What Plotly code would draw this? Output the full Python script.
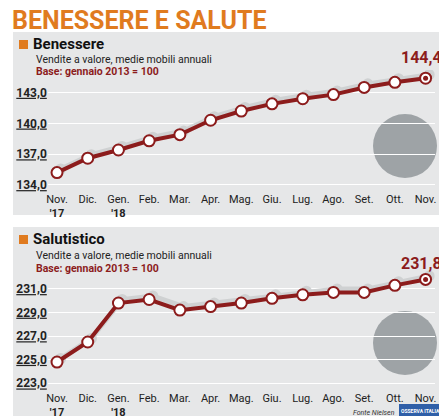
import plotly.graph_objects as go

months = ["Nov.<br><b>'17</b>", "Dic.", "Gen.<br><b>'18</b>", "Feb.", "Mar.", "Apr.", "Mag.", "Giu.", "Lug.", "Ago.", "Set.", "Ott.", "Nov."]
benessere = [135.2, 136.6, 137.4, 138.3, 138.9, 140.3, 141.2, 141.9, 142.4, 142.8, 143.5, 144.0, 144.4]
salutistico = [224.8, 226.5, 229.8, 230.1, 229.2, 229.5, 229.8, 230.2, 230.5, 230.7, 230.7, 231.3, 231.8]
ben_ticks = [134, 137, 140, 143]
sal_ticks = [223, 225, 227, 229, 231]

W, H = 447, 416
FONT = "Liberation Sans Narrow, Roboto, Arial Narrow, sans-serif"
RED = "#8c1c1c"
ORANGE = "#e07b1f"
xs = list(range(len(months)))

def py(p):
    return 1 - p / H

fig = go.Figure()

def add_panel(vals, xa, ya, shadow):
    fig.add_trace(go.Scatter(x=[x + 0.12 for x in xs], y=[v + shadow for v in vals], mode="lines+markers",
                             line=dict(color="#cfd1d2", width=5), marker=dict(size=11, color="#cfd1d2"),
                             xaxis=xa, yaxis=ya, hoverinfo="skip"))
    fig.add_trace(go.Scatter(x=xs, y=vals, mode="lines+markers",
                             line=dict(color=RED, width=4),
                             marker=dict(size=11, color="white", line=dict(color=RED, width=2)),
                             xaxis=xa, yaxis=ya))
    fig.add_trace(go.Scatter(x=[xs[-1]], y=[vals[-1]], mode="markers",
                             marker=dict(size=5, color=RED), xaxis=xa, yaxis=ya))

add_panel(benessere, "x", "y", 0.35)
add_panel(salutistico, "x2", "y2", 0.3)

xdom = [39.8 / W, 426.8 / W]
def xcommon():
    return dict(range=[-0.3, 12.3], autorange=False, tickvals=xs, ticktext=months, showgrid=False,
                zeroline=False, showline=False, ticks="", ticklabelstandoff=2,
                tickfont=dict(family=FONT, size=11, color="#222"))
def ycommon(ticks):
    return dict(tickvals=ticks, ticktext=[f"<u><b>{t},0</b></u>" for t in ticks], gridcolor="white", gridwidth=1,
                zeroline=False, showline=False, ticks="", autorange=False,
                tickfont=dict(family=FONT, size=12, color="#222"))

fig.update_layout(
    width=W, height=H, margin=dict(l=0, r=0, t=0, b=0, autoexpand=False), showlegend=False,
    paper_bgcolor="white", plot_bgcolor="rgba(0,0,0,0)",
    xaxis=dict(domain=xdom, anchor="y", **xcommon()),
    yaxis=dict(domain=[py(181), py(62)], range=[133.6, 145.2], anchor="x", **ycommon(ben_ticks)),
    xaxis2=dict(domain=xdom, anchor="y2", **xcommon()),
    yaxis2=dict(domain=[py(380), py(262)], range=[222.6, 232.6], anchor="x2", **ycommon(sal_ticks)),
)

def circ(cx, cy, r):
    return dict(type="circle", xref="paper", yref="paper", x0=(cx - r) / W, x1=(cx + r) / W,
                y0=py(cy + r), y1=py(cy - r), fillcolor="#9ea3a6", line_width=0, layer="below")

shapes = [
    dict(type="rect", xref="paper", yref="paper", x0=5 / W, x1=440 / W, y0=py(207), y1=py(24),
         fillcolor="#e6e7e8", line_width=0, layer="below"),
    dict(type="rect", xref="paper", yref="paper", x0=5 / W, x1=440 / W, y0=py(412), y1=py(219),
         fillcolor="#e6e7e8", line_width=0, layer="below"),
    circ(397, 138, 32),
    circ(397, 335, 32),
    dict(type="rect", xref="paper", yref="paper", x0=11 / W, x1=20 / W, y0=py(41), y1=py(32),
         fillcolor=ORANGE, line_width=0),
    dict(type="rect", xref="paper", yref="paper", x0=11 / W, x1=20 / W, y0=py(236), y1=py(227),
         fillcolor=ORANGE, line_width=0),
    dict(type="rect", xref="paper", yref="paper", x0=391 / W, x1=432 / W, y0=py(410), y1=py(396),
         fillcolor="#2f5fa8", line_width=0),
]
fig.update_layout(shapes=shapes)

def ann(x, y, text, size, color="#222", bold=False, xanchor="left", italic=False):
    t = f"<b>{text}</b>" if bold else text
    if italic:
        t = f"<i>{t}</i>"
    fig.add_annotation(x=x / W, y=py(y), xref="paper", yref="paper", text=t, showarrow=False,
                       xanchor=xanchor, yanchor="middle", font=dict(family=FONT, size=size, color=color))

ann(2, 12, "BENESSERE E SALUTE", 25, ORANGE, True)
ann(23, 36, "Benessere", 15, "#111", True)
ann(26, 51, "Vendite a valore, medie mobili annuali", 10.5)
ann(26, 63, "Base: gennaio 2013 = 100", 10.5, RED, True)
ann(436, 49, "144,4", 16, RED, True, "right")
ann(23, 231, "Salutistico", 15, "#111", True)
ann(26, 247, "Vendite a valore, medie mobili annuali", 10.5)
ann(26, 260, "Base: gennaio 2013 = 100", 10.5, RED, True)
ann(436, 255, "231,8", 16, RED, True, "right")
ann(389, 405, "Fonte Nielsen", 7, "#333", False, "right", True)
ann(412, 403, "OSSERVA ITALIA", 5, "white", True, "center")

fig.write_html("out.html")
